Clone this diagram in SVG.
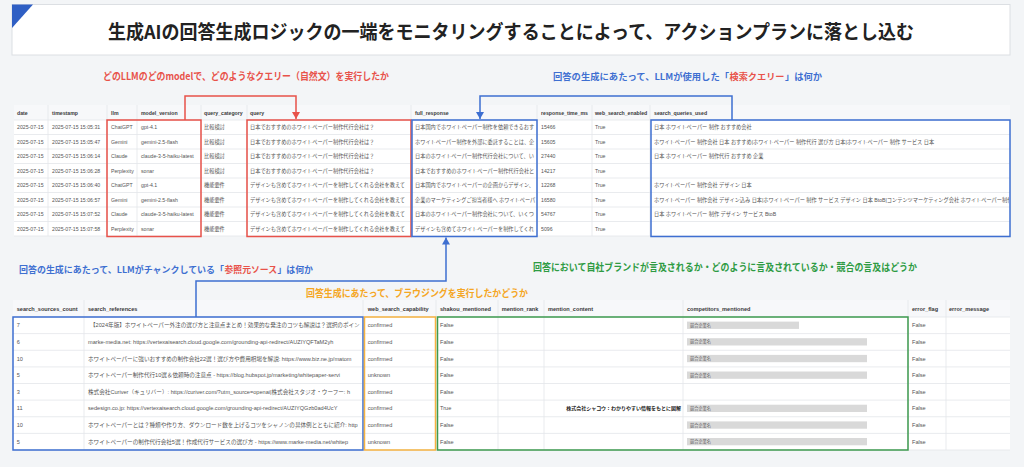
<svg xmlns="http://www.w3.org/2000/svg" width="1024" height="467" viewBox="0 0 1024 467">
<style>
.hd{font-family:'Liberation Sans','Noto Sans CJK JP',sans-serif;font-size:5.2px;font-weight:700;fill:#3a3a3a}
.td{font-family:'Liberation Sans','Noto Sans CJK JP',sans-serif;font-size:5.2px;fill:#555}
.hd2{font-family:'Liberation Sans','Noto Sans CJK JP',sans-serif;font-size:5.6px;font-weight:700;fill:#3a3a3a}
.td2{font-family:'Liberation Sans','Noto Sans CJK JP',sans-serif;font-size:5.6px;fill:#555}
.grid{stroke:#e3e6ea;stroke-width:0.8;fill:none}
.lbl{font-family:'Noto Sans CJK JP',sans-serif;font-size:10px;font-weight:700}
.lbs{font-size:8.6px}
.box{fill:none;stroke-width:1.5}
.bar{fill:#d9d9d9}
.bt{font-family:'Noto Sans CJK JP',sans-serif;font-size:4.2px;fill:#666}
</style>
<defs>
<marker id="arR" markerUnits="userSpaceOnUse" markerWidth="8" markerHeight="8" refX="7" refY="4" orient="auto"><path d="M0,0 L7,4 L0,8 z" fill="#e8524a"/></marker>
<marker id="arB" markerUnits="userSpaceOnUse" markerWidth="8" markerHeight="8" refX="7" refY="4" orient="auto"><path d="M0,0 L7,4 L0,8 z" fill="#3e6fd1"/></marker>
<clipPath id="cFR"><rect x="413" y="120" width="123" height="116"/></clipPath>
<clipPath id="cSQ"><rect x="652" y="120" width="357" height="116"/></clipPath>
<clipPath id="cSR"><rect x="85" y="317" width="277" height="133"/></clipPath>
</defs>
<rect x="0" y="0" width="1024" height="467" fill="#f3f5f7"/>

<g id="header">
<rect x="12" y="4.5" width="998" height="50.5" fill="#fff" stroke="#dcdfe3" stroke-width="1"/>
<polygon points="12,4.5 33,4.5 12,28" fill="#2f5fc4"/>
<text x="108" y="38.7" textLength="806" lengthAdjust="spacingAndGlyphs" font-family="'Noto Sans CJK JP',sans-serif" font-size="19" font-weight="700" fill="#222">生成AIの回答生成ロジックの一端をモニタリングすることによって、アクションプランに落とし込む</text>
</g>

<g id="label-query" class="lbl"><text x="103" y="79.8" textLength="286" lengthAdjust="spacingAndGlyphs" fill="#e8524a">どのLLMのどのmodelで、どのようなクエリー（自然文）を実行したか</text></g>
<g id="label-search-query" class="lbl">
<text class="lbs" x="553" y="79.6" textLength="176" lengthAdjust="spacingAndGlyphs" fill="#3e6fd1">回答の生成にあたって、LLMが使用した「</text>
<text class="lbs" x="729.5" y="79.6" textLength="55" lengthAdjust="spacingAndGlyphs" fill="#e8524a">検索クエリー</text>
<text class="lbs" x="785" y="79.6" textLength="37" lengthAdjust="spacingAndGlyphs" fill="#3e6fd1">」は何か</text>
</g>
<g id="label-sources" class="lbl">
<text class="lbs" x="19" y="272.6" textLength="205" lengthAdjust="spacingAndGlyphs" fill="#3e6fd1">回答の生成にあたって、LLMがチャンクしている「</text>
<text class="lbs" x="224.5" y="272.6" textLength="52.5" lengthAdjust="spacingAndGlyphs" fill="#e8524a">参照元ソース</text>
<text class="lbs" x="277.5" y="272.6" textLength="35.5" lengthAdjust="spacingAndGlyphs" fill="#3e6fd1">」は何か</text>
</g>
<g id="label-browsing" class="lbl"><text x="306" y="296.8" textLength="222" lengthAdjust="spacingAndGlyphs" fill="#f5a623">回答生成にあたって、ブラウジングを実行したかどうか</text></g>
<g id="label-mention" class="lbl"><text x="533" y="270.8" textLength="384" lengthAdjust="spacingAndGlyphs" fill="#2e9b43">回答において自社ブランドが言及されるか・どのように言及されているか・競合の言及はどうか</text></g>

<g id="table-top">
<rect x="14" y="105" width="996" height="15" fill="#f7f8fa"/>
<rect x="14" y="120" width="996" height="116" fill="#fff"/>
<path class="grid" d="M48,105V236M107,105V236M137,105V236M201,105V236M247,105V236M411,105V236M537,105V236M592,105V236M650,105V236M14,120H1010M14,134.5H1010M14,149H1010M14,163.5H1010M14,178H1010M14,192.5H1010M14,207H1010M14,221.5H1010M14,236H1010"/>
<g class="hd">
<text x="17" y="114.6">date</text><text x="52" y="114.6">timestamp</text><text x="111" y="114.6">llm</text><text x="141" y="114.6">model_version</text><text x="204" y="114.6">query_category</text><text x="250" y="114.6">query</text><text x="415" y="114.6">full_response</text><text x="541" y="114.6">response_time_ms</text><text x="595" y="114.6">web_search_enabled</text><text x="654" y="114.6">search_queries_used</text>
</g>
<g class="td">
<text x="17" y="129">2025-07-15</text><text x="52" y="129">2025-07-15 15:05:31</text><text x="111" y="129">ChatGPT</text><text x="141" y="129">gpt-4.1</text><text x="204" y="129">比較検討</text><text x="250" y="129">日本でおすすめのホワイトペーパー制作代行会社は？</text><text x="541" y="129">15466</text><text x="595" y="129">True</text>
<text x="17" y="143.5">2025-07-15</text><text x="52" y="143.5">2025-07-15 15:05:47</text><text x="111" y="143.5">Gemini</text><text x="141" y="143.5">gemini-2.5-flash</text><text x="204" y="143.5">比較検討</text><text x="250" y="143.5">日本でおすすめのホワイトペーパー制作代行会社は？</text><text x="541" y="143.5">15605</text><text x="595" y="143.5">True</text>
<text x="17" y="158">2025-07-15</text><text x="52" y="158">2025-07-15 15:06:14</text><text x="111" y="158">Claude</text><text x="141" y="158">claude-3-5-haiku-latest</text><text x="204" y="158">比較検討</text><text x="250" y="158">日本でおすすめのホワイトペーパー制作代行会社は？</text><text x="541" y="158">27440</text><text x="595" y="158">True</text>
<text x="17" y="172.5">2025-07-15</text><text x="52" y="172.5">2025-07-15 15:06:28</text><text x="111" y="172.5">Perplexity</text><text x="141" y="172.5">sonar</text><text x="204" y="172.5">比較検討</text><text x="250" y="172.5">日本でおすすめのホワイトペーパー制作代行会社は？</text><text x="541" y="172.5">14217</text><text x="595" y="172.5">True</text>
<text x="17" y="187">2025-07-15</text><text x="52" y="187">2025-07-15 15:06:40</text><text x="111" y="187">ChatGPT</text><text x="141" y="187">gpt-4.1</text><text x="204" y="187">機能要件</text><text x="250" y="187">デザインも含めてホワイトペーパーを制作してくれる会社を教えて</text><text x="541" y="187">12268</text><text x="595" y="187">True</text>
<text x="17" y="201.5">2025-07-15</text><text x="52" y="201.5">2025-07-15 15:06:57</text><text x="111" y="201.5">Gemini</text><text x="141" y="201.5">gemini-2.5-flash</text><text x="204" y="201.5">機能要件</text><text x="250" y="201.5">デザインも含めてホワイトペーパーを制作してくれる会社を教えて</text><text x="541" y="201.5">16580</text><text x="595" y="201.5">True</text>
<text x="17" y="216">2025-07-15</text><text x="52" y="216">2025-07-15 15:07:52</text><text x="111" y="216">Claude</text><text x="141" y="216">claude-3-5-haiku-latest</text><text x="204" y="216">機能要件</text><text x="250" y="216">デザインも含めてホワイトペーパーを制作してくれる会社を教えて</text><text x="541" y="216">54767</text><text x="595" y="216">True</text>
<text x="17" y="230.5">2025-07-15</text><text x="52" y="230.5">2025-07-15 15:07:58</text><text x="111" y="230.5">Perplexity</text><text x="141" y="230.5">sonar</text><text x="204" y="230.5">機能要件</text><text x="250" y="230.5">デザインも含めてホワイトペーパーを制作してくれる会社を教えて</text><text x="541" y="230.5">5096</text><text x="595" y="230.5">True</text>
</g>
<g class="td" clip-path="url(#cFR)">
<text x="415" y="129">日本国内でホワイトペーパー制作を依頼できるおす</text>
<text x="415" y="143.5">ホワイトペーパー制作を外部に委託することは、企</text>
<text x="415" y="158">日本のホワイトペーパー制作代行会社について、い</text>
<text x="415" y="172.5">日本でおすすめのホワイトペーパー制作代行会社と</text>
<text x="415" y="187">日本国内でホワイトペーパーの企画からデザイン、</text>
<text x="415" y="201.5">企業のマーケティングご担当者様へ ホワイトペーパ</text>
<text x="415" y="216">日本のホワイトペーパー制作会社について、いくつ</text>
<text x="415" y="230.5">デザインも含めてホワイトペーパーを制作してくれ</text>
</g>
<g class="td" clip-path="url(#cSQ)">
<text x="654" y="129">日本 ホワイトペーパー 制作 おすすめ会社</text>
<text x="654" y="143.5">ホワイトペーパー 制作会社 日本 おすすめ|ホワイトペーパー 制作代行 選び方 日本|ホワイトペーパー 制作 サービス 日本</text>
<text x="654" y="158">日本 ホワイトペーパー 制作代行 おすすめ 企業</text>
<text x="654" y="187">ホワイトペーパー 制作会社 デザイン 日本</text>
<text x="654" y="201.5">ホワイトペーパー 制作会社 デザイン込み 日本|ホワイトペーパー 制作 サービス デザイン 日本 BtoB|コンテンツマーケティング会社 ホワイトペーパー制作 日本</text>
<text x="654" y="216">日本 ホワイトペーパー 制作 デザイン サービス BtoB</text>
</g>
</g>

<g id="table-bottom">
<rect x="13" y="300" width="997" height="17" fill="#f7f8fa"/>
<rect x="13" y="317" width="997" height="133" fill="#fff"/>
<path class="grid" d="M84,300V450M363,300V450M436,300V450M498,300V450M544,300V450M683,300V450M908,300V450M946,300V450M13,317H1010M13,333.6H1010M13,350.25H1010M13,366.9H1010M13,383.5H1010M13,400.1H1010M13,416.75H1010M13,433.4H1010M13,450H1010"/>
<g class="hd2">
<text x="16.7" y="310.6">search_sources_count</text><text x="88" y="310.6">search_references</text><text x="367.7" y="310.6">web_search_capability</text><text x="440" y="310.6">shakou_mentioned</text><text x="501.7" y="310.6">mention_rank</text><text x="548" y="310.6">mention_content</text><text x="687" y="310.6">competitors_mentioned</text><text x="912" y="310.6">error_flag</text><text x="949" y="310.6">error_message</text>
</g>
<g class="bar">
<rect x="687" y="321.6" width="112" height="7.3"/>
<rect x="687" y="338.2" width="180" height="7.3"/>
<rect x="687" y="354.9" width="180" height="7.3"/>
<rect x="687" y="371.5" width="180" height="7.3"/>
<rect x="687" y="404.7" width="180" height="7.3"/>
<rect x="687" y="421.4" width="180" height="7.3"/>
<rect x="687" y="438" width="180" height="7.3"/>
</g>
<g class="bt">
<text x="690" y="326.8">競合企業名</text><text x="690" y="343.4">競合企業名</text><text x="690" y="360.1">競合企業名</text><text x="690" y="376.7">競合企業名</text><text x="690" y="409.9">競合企業名</text><text x="690" y="426.6">競合企業名</text><text x="690" y="443.2">競合企業名</text>
</g>
<g class="td2">
<text x="16.7" y="327.2">7</text><text x="367.7" y="327.2">confirmed</text><text x="440" y="327.2">False</text><text x="912" y="327.2">False</text>
<text x="16.7" y="343.8">6</text><text x="367.7" y="343.8">confirmed</text><text x="440" y="343.8">False</text><text x="912" y="343.8">False</text>
<text x="16.7" y="360.5">10</text><text x="367.7" y="360.5">confirmed</text><text x="440" y="360.5">False</text><text x="912" y="360.5">False</text>
<text x="16.7" y="377.1">5</text><text x="367.7" y="377.1">unknown</text><text x="440" y="377.1">False</text><text x="912" y="377.1">False</text>
<text x="16.7" y="393.7">3</text><text x="367.7" y="393.7">confirmed</text><text x="440" y="393.7">False</text><text x="912" y="393.7">False</text>
<text x="16.7" y="410.3">11</text><text x="367.7" y="410.3">confirmed</text><text x="440" y="410.3">True</text><text x="912" y="410.3">False</text>
<text x="16.7" y="427">10</text><text x="367.7" y="427">confirmed</text><text x="440" y="427">False</text><text x="912" y="427">False</text>
<text x="16.7" y="443.6">5</text><text x="367.7" y="443.6">unknown</text><text x="440" y="443.6">False</text><text x="912" y="443.6">False</text>
<text x="681" y="410.3" text-anchor="end" font-size="5" font-weight="700" fill="#222">株式会社シャコウ：わかりやすい情報をもとに図解</text>
</g>
<g class="td2" clip-path="url(#cSR)">
<text x="90" y="327.2">【2024年版】ホワイトペーパー外注の選び方と注意点まとめ！効果的な発注のコツも解説は？選択のポイン</text>
<text x="88" y="343.8">marke-media.net: https://vertexaisearch.cloud.google.com/grounding-api-redirect/AUZIYQFTaM2yh</text>
<text x="88" y="360.5">ホワイトペーパーに強いおすすめの制作会社22選！選び方や費用相場を解説: https://www.biz.ne.jp/matom</text>
<text x="88" y="377.1">ホワイトペーパー制作代行10選＆依頼時の注意点 - https://blog.hubspot.jp/marketing/whitepaper-servi</text>
<text x="88" y="393.7">株式会社Curiver（キュリバー）: https://curiver.com/?utm_source=openai|株式会社スタジオ・ウーフー: h</text>
<text x="88" y="410.3">sedesign.co.jp: https://vertexaisearch.cloud.google.com/grounding-api-redirect/AUZIYQGzb0ad4UcY</text>
<text x="88" y="427">ホワイトペーパーとは？種類や作り方、ダウンロード数を上げるコツをシャノンの具体例とともに紹介: http</text>
<text x="88" y="443.6">ホワイトペーパーの制作代行会社5選！作成代行サービスの選び方 - https://www.marke-media.net/whitep</text>
</g>
</g>

<g id="highlight-boxes">
<rect id="box-llm-model" class="box" x="107" y="120" width="94" height="116.5" stroke="#e8524a"/>
<rect id="box-query" class="box" x="247" y="120" width="164" height="116.5" stroke="#e8524a"/>
<rect id="box-full-response" class="box" x="412" y="120" width="125" height="116.5" stroke="#3e6fd1"/>
<rect id="box-search-queries" class="box" x="651" y="120" width="359" height="116.5" stroke="#3e6fd1"/>
<rect id="box-references" class="box" x="13" y="317" width="350" height="133" stroke="#3e6fd1"/>
<rect id="box-capability" class="box" x="364.5" y="317" width="71" height="133" stroke="#f5b342"/>
<rect id="box-mentions" class="box" x="437.5" y="317" width="470.5" height="133" stroke="#3e9a4f"/>
</g>

<g id="connectors" fill="none" stroke-width="1.5">
<path d="M185,120V96H296V119" stroke="#e8524a" marker-end="url(#arR)"/>
<path d="M732,120V96H480V119" stroke="#3e6fd1" marker-end="url(#arB)"/>
<path d="M196,317V281H446V237.5" stroke="#3e6fd1" marker-end="url(#arB)"/>
</g>
</svg>
